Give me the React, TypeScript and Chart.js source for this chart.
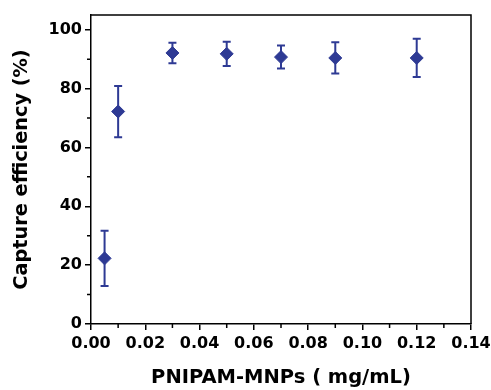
import React, { useEffect, useRef } from "react";
import { Chart, registerables } from "chart.js";

Chart.register(...registerables);

const concentrations = [0.005, 0.01, 0.03, 0.05, 0.07, 0.09, 0.12];
const efficiency = [22.3, 72.2, 92.1, 91.8, 90.7, 90.4, 90.4];
const errors = [9.4, 8.7, 3.5, 4.1, 3.9, 5.3, 6.5];
const xTicks = [0, 0.02, 0.04, 0.06, 0.08, 0.1, 0.12, 0.14];
const xMinorTicks = [0.01, 0.03, 0.05, 0.07, 0.09, 0.11, 0.13];
const yTicks = [0, 20, 40, 60, 80, 100];
const yMinorTicks = [10, 30, 50, 70, 90];

const BLUE = "#2E3A94";
const FONT = "'DejaVu Sans', sans-serif";

const framePlugin = {
  id: "frameAndErrors",
  beforeDatasetsDraw(chart: any) {
    const ctx = chart.ctx;
    const xs = chart.scales.x;
    const ys = chart.scales.y;
    ctx.save();
    ctx.strokeStyle = BLUE;
    ctx.lineWidth = 2;
    for (let i = 0; i < concentrations.length; i++) {
      const px = xs.getPixelForValue(concentrations[i]);
      const top = ys.getPixelForValue(efficiency[i] + errors[i]);
      const bot = ys.getPixelForValue(efficiency[i] - errors[i]);
      ctx.beginPath();
      ctx.moveTo(px, top);
      ctx.lineTo(px, bot);
      ctx.moveTo(px - 4, top);
      ctx.lineTo(px + 4, top);
      ctx.moveTo(px - 4, bot);
      ctx.lineTo(px + 4, bot);
      ctx.stroke();
    }
    ctx.restore();
  },
  afterDraw(chart: any) {
    const ctx = chart.ctx;
    const { left, right, top, bottom } = chart.chartArea;
    const xs = chart.scales.x;
    const ys = chart.scales.y;
    ctx.save();
    ctx.strokeStyle = "#000";
    ctx.lineWidth = 1.5;
    ctx.beginPath();
    ctx.moveTo(left, top);
    ctx.lineTo(right, top);
    ctx.lineTo(right, bottom);
    ctx.stroke();
    ctx.beginPath();
    for (const v of xMinorTicks) {
      const px = xs.getPixelForValue(v);
      ctx.moveTo(px, bottom);
      ctx.lineTo(px, bottom + 4);
    }
    for (const v of yMinorTicks) {
      const py = ys.getPixelForValue(v);
      ctx.moveTo(left, py);
      ctx.lineTo(left - 4, py);
    }
    ctx.stroke();
    ctx.restore();
  },
};

export default function App() {
  const ref = useRef<HTMLCanvasElement | null>(null);
  useEffect(() => {
    if (!ref.current) return;
    const chart = new Chart(ref.current, {
      type: "scatter",
      data: {
        datasets: [
          {
            data: concentrations.map((x, i) => ({ x, y: efficiency[i] })),
            pointStyle: "rectRot",
            pointRadius: 6.5,
            pointHoverRadius: 6.5,
            backgroundColor: BLUE,
            borderColor: BLUE,
            borderWidth: 1,
          },
        ],
      },
      options: {
        responsive: false,
        animation: false,
        layout: { padding: { top: 15, right: 20, left: 0, bottom: 0 } },
        plugins: { legend: { display: false }, tooltip: { enabled: false } },
        scales: {
          x: {
            type: "linear",
            min: 0,
            max: 0.14,
            afterBuildTicks: (s: any) => {
              s.ticks = xTicks.map((v) => ({ value: v }));
            },
            afterFit: (s: any) => {
              s.height = 66;
              s.paddingRight = 0;
              s.paddingLeft = 0;
            },
            grid: {
              display: true,
              drawOnChartArea: false,
              drawTicks: true,
              tickLength: 6,
              color: "#000",
              lineWidth: 1.5,
            },
            border: { display: true, color: "#000", width: 1.5 },
            ticks: {
              color: "#000",
              padding: 4,
              maxRotation: 0,
              autoSkip: false,
              font: { family: FONT, size: 16, weight: "bold" },
              callback: (v: any) => Number(v).toFixed(2),
            },
            title: {
              display: true,
              text: "PNIPAM-MNPs ( mg/mL)",
              color: "#000",
              padding: { top: 0, bottom: 0 },
              font: { family: FONT, size: 19.5, weight: "bold" },
            },
          },
          y: {
            type: "linear",
            min: 0,
            max: 105,
            afterBuildTicks: (s: any) => {
              s.ticks = yTicks.map((v) => ({ value: v }));
            },
            afterFit: (s: any) => {
              s.width = 91;
            },
            grid: {
              display: true,
              drawOnChartArea: false,
              drawTicks: true,
              tickLength: 6,
              color: "#000",
              lineWidth: 1.5,
            },
            border: { display: true, color: "#000", width: 1.5 },
            ticks: {
              color: "#000",
              padding: 3,
              autoSkip: false,
              font: { family: FONT, size: 16, weight: "bold" },
            },
            title: {
              display: true,
              text: "Capture efficiency (%)",
              color: "#000",
              padding: { top: 10, bottom: 0 },
              font: { family: FONT, size: 19.3, weight: "bold" },
            },
          },
        },
      },
      plugins: [framePlugin],
    } as any);
    return () => chart.destroy();
  }, []);
  return (
    <div style={{ position: "fixed", left: 0, top: 0, width: 491, height: 390, background: "#fff" }}>
      <canvas ref={ref} width={491} height={390} />
    </div>
  );
}
